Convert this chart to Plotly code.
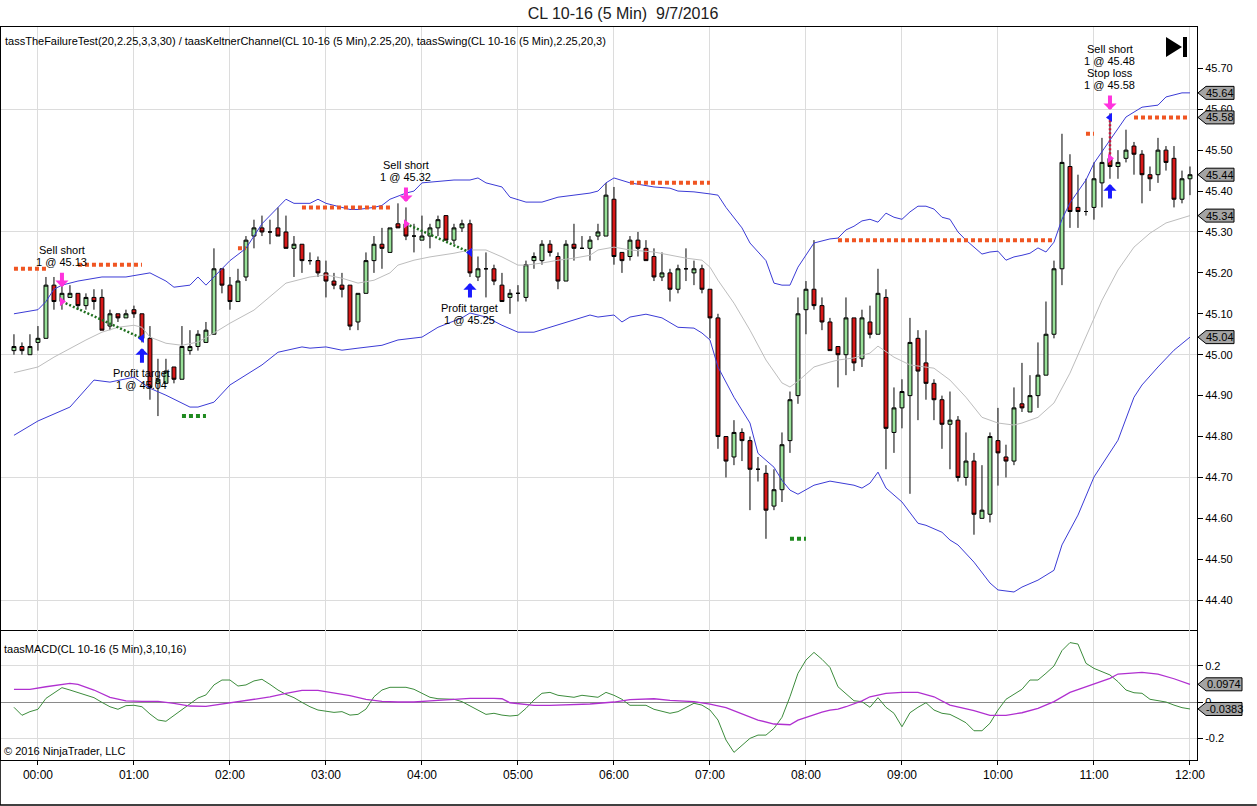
import pandas as pd
import plotly.graph_objects as go
from plotly.subplots import make_subplots

# CL 10-16, 5 minute bars, 23:45 (9/6) through 12:00 (9/7)
bar_open = [45.01, 45.02, 45.00, 45.03, 45.04, 45.17, 45.13, 45.14, 45.15, 45.12,
            45.14, 45.14, 45.07, 45.10, 45.09, 45.11, 45.10, 45.04, 44.93, 44.93,
            44.97, 44.94, 45.01, 45.02, 45.03, 45.05, 45.21, 45.17, 45.13, 45.19,
            45.29, 45.31, 45.30, 45.31, 45.30, 45.26, 45.27, 45.23, 45.23, 45.20,
            45.18, 45.17, 45.17, 45.08, 45.15, 45.23, 45.27, 45.25, 45.32, 45.32,
            45.29, 45.28, 45.29, 45.31, 45.34, 45.28, 45.31, 45.32, 45.19, 45.21,
            45.21, 45.17, 45.14, 45.15, 45.14, 45.23, 45.23, 45.27, 45.24, 45.18,
            45.27, 45.26, 45.26, 45.29, 45.29, 45.38, 45.25, 45.24, 45.28, 45.26,
            45.24, 45.19, 45.20, 45.16, 45.21, 45.20, 45.21, 45.16, 45.09, 44.80,
            44.75, 44.81, 44.79, 44.72, 44.71, 44.63, 44.67, 44.79, 44.90, 45.11,
            45.16, 45.12, 45.08, 45.02, 45.00, 45.09, 44.99, 45.08, 45.05, 45.14,
            44.81, 44.87, 44.90, 45.04, 44.98, 44.93, 44.89, 44.83, 44.84, 44.70,
            44.74, 44.60, 44.61, 44.79, 44.75, 44.74, 44.88, 44.86, 44.90, 44.95,
            45.05, 45.21, 45.46, 45.36, 45.35, 45.36, 45.42, 45.48, 45.46, 45.48,
            45.51, 45.49, 45.44, 45.44, 45.50, 45.48, 45.38, 45.43]
bar_high = [45.05, 45.03, 45.05, 45.07, 45.19, 45.19, 45.17, 45.17, 45.15, 45.15,
            45.16, 45.16, 45.11, 45.10, 45.11, 45.12, 45.10, 45.07, 44.99, 44.99,
            44.97, 45.07, 45.06, 45.06, 45.08, 45.26, 45.21, 45.19, 45.21, 45.29,
            45.33, 45.34, 45.33, 45.36, 45.34, 45.29, 45.27, 45.25, 45.24, 45.23,
            45.20, 45.20, 45.17, 45.15, 45.25, 45.29, 45.31, 45.31, 45.37, 45.36,
            45.32, 45.34, 45.32, 45.34, 45.34, 45.32, 45.33, 45.33, 45.24, 45.25,
            45.22, 45.20, 45.16, 45.17, 45.23, 45.25, 45.28, 45.28, 45.25, 45.28,
            45.32, 45.29, 45.29, 45.32, 45.42, 45.41, 45.25, 45.29, 45.30, 45.28,
            45.26, 45.25, 45.21, 45.22, 45.26, 45.23, 45.22, 45.16, 45.10, 44.80,
            44.84, 44.82, 44.80, 44.75, 44.73, 44.72, 44.81, 44.91, 45.14, 45.18,
            45.28, 45.14, 45.09, 45.02, 45.14, 45.09, 45.11, 45.12, 45.21, 45.16,
            44.92, 44.94, 45.09, 45.06, 45.06, 44.94, 44.90, 44.91, 44.85, 44.81,
            44.76, 44.73, 44.81, 44.87, 44.78, 44.92, 44.98, 44.95, 45.03, 45.13,
            45.23, 45.54, 45.49, 45.44, 45.43, 45.47, 45.53, 45.59, 45.50, 45.55,
            45.52, 45.50, 45.46, 45.53, 45.51, 45.51, 45.45, 45.46]
bar_low = [45.00, 45.00, 45.00, 45.01, 45.04, 45.11, 45.11, 45.14, 45.11, 45.11,
           45.11, 45.06, 45.06, 45.08, 45.09, 45.09, 45.03, 44.89, 44.85, 44.93,
           44.93, 44.94, 45.00, 45.01, 45.03, 45.05, 45.15, 45.11, 45.13, 45.18,
           45.26, 45.29, 45.27, 45.29, 45.26, 45.19, 45.20, 45.22, 45.19, 45.14,
           45.16, 45.14, 45.06, 45.06, 45.15, 45.20, 45.21, 45.25, 45.31, 45.28,
           45.25, 45.28, 45.26, 45.29, 45.28, 45.27, 45.30, 45.19, 45.18, 45.14,
           45.17, 45.13, 45.10, 45.13, 45.13, 45.21, 45.22, 45.24, 45.16, 45.18,
           45.23, 45.26, 45.23, 45.28, 45.29, 45.22, 45.20, 45.23, 45.24, 45.23,
           45.18, 45.18, 45.13, 45.15, 45.18, 45.17, 45.15, 45.04, 44.77, 44.70,
           44.73, 44.74, 44.62, 44.69, 44.55, 44.62, 44.64, 44.76, 44.88, 45.05,
           45.11, 45.06, 45.01, 44.92, 44.95, 44.96, 44.97, 45.04, 45.05, 44.72,
           44.76, 44.82, 44.66, 44.84, 44.89, 44.84, 44.77, 44.72, 44.69, 44.68,
           44.56, 44.60, 44.59, 44.68, 44.70, 44.73, 44.86, 44.86, 44.87, 44.95,
           45.04, 45.17, 45.31, 45.31, 45.34, 45.33, 45.36, 45.43, 45.43, 45.47,
           45.44, 45.37, 45.40, 45.42, 45.45, 45.36, 45.37, 45.39]
bar_close = [45.02, 45.01, 45.02, 45.04, 45.17, 45.13, 45.15, 45.15, 45.12, 45.14,
             45.13, 45.06, 45.10, 45.09, 45.10, 45.10, 45.04, 44.92, 44.94, 44.96,
             44.94, 45.02, 45.02, 45.05, 45.06, 45.21, 45.17, 45.13, 45.18, 45.28,
             45.31, 45.30, 45.30, 45.29, 45.26, 45.27, 45.23, 45.23, 45.20, 45.18,
             45.17, 45.16, 45.07, 45.15, 45.23, 45.27, 45.26, 45.31, 45.31, 45.29,
             45.29, 45.29, 45.31, 45.33, 45.28, 45.31, 45.32, 45.20, 45.21, 45.21,
             45.18, 45.13, 45.15, 45.15, 45.22, 45.24, 45.27, 45.25, 45.18, 45.27,
             45.26, 45.26, 45.28, 45.30, 45.39, 45.24, 45.23, 45.28, 45.26, 45.23,
             45.19, 45.20, 45.16, 45.21, 45.21, 45.21, 45.16, 45.09, 44.80, 44.74,
             44.81, 44.79, 44.72, 44.72, 44.62, 44.67, 44.78, 44.89, 45.10, 45.16,
             45.12, 45.08, 45.01, 45.00, 45.09, 44.98, 45.09, 45.05, 45.15, 44.82,
             44.87, 44.91, 45.03, 44.96, 44.93, 44.89, 44.83, 44.84, 44.70, 44.74,
             44.61, 44.62, 44.80, 44.76, 44.74, 44.87, 44.87, 44.90, 44.95, 45.05,
             45.21, 45.47, 45.35, 45.35, 45.35, 45.43, 45.47, 45.46, 45.47, 45.50,
             45.49, 45.44, 45.43, 45.50, 45.47, 45.38, 45.43, 45.44]

# Keltner channel (2.25, 20), read at sample bars
upper_time = ["23:45", "00:00", "00:05", "00:10", "00:15", "00:25", "00:40", "00:55", "01:10", "01:20",
              "01:25", "01:35", "01:40", "01:45", "01:55", "02:00", "02:10", "02:15", "02:20", "02:30",
              "02:35", "02:40", "02:50", "02:55", "03:00", "03:10", "03:15", "03:20", "03:30", "03:35",
              "03:40", "03:50", "03:55", "04:00", "04:20", "04:30", "04:35", "04:40", "04:50", "04:55",
              "05:05", "05:15", "05:25", "05:35", "05:45", "05:50", "05:55", "06:00", "06:10", "06:25",
              "06:35", "06:40", "06:50", "07:00", "07:05", "07:10", "07:20", "07:25", "07:35", "07:40",
              "07:45", "07:50", "07:55", "08:05", "08:15", "08:20", "08:25", "08:30", "08:35", "08:40",
              "08:45", "08:50", "08:55", "09:00", "09:05", "09:10", "09:15", "09:20", "09:25", "09:30",
              "09:35", "09:40", "09:45", "09:50", "09:55", "10:00", "10:05", "10:10", "10:15", "10:20",
              "10:25", "10:30", "10:35", "10:40", "10:45", "10:55", "11:00", "11:10", "11:20", "11:30",
              "11:40", "11:45", "11:55", "12:00"]
upper_val = [45.100, 45.110, 45.130, 45.160, 45.170, 45.180, 45.190, 45.190, 45.200, 45.180,
             45.165, 45.170, 45.190, 45.170, 45.210, 45.230, 45.260, 45.290, 45.320, 45.360,
             45.380, 45.370, 45.370, 45.380, 45.370, 45.360, 45.355, 45.355, 45.360, 45.365,
             45.380, 45.395, 45.400, 45.420, 45.427, 45.427, 45.432, 45.420, 45.410, 45.385,
             45.373, 45.373, 45.385, 45.390, 45.395, 45.400, 45.420, 45.432, 45.420, 45.410,
             45.407, 45.400, 45.398, 45.393, 45.390, 45.360, 45.310, 45.273, 45.230, 45.175,
             45.170, 45.170, 45.214, 45.273, 45.283, 45.285, 45.305, 45.314, 45.327, 45.331,
             45.324, 45.346, 45.336, 45.331, 45.349, 45.363, 45.363, 45.356, 45.336, 45.331,
             45.300, 45.280, 45.263, 45.246, 45.251, 45.253, 45.231, 45.239, 45.243, 45.248,
             45.261, 45.251, 45.275, 45.331, 45.371, 45.427, 45.468, 45.525, 45.581, 45.605,
             45.610, 45.630, 45.640, 45.640]
mid_time = ["23:45", "00:00", "00:10", "00:20", "00:30", "00:40", "00:50", "01:00", "01:05", "01:10",
            "01:20", "01:30", "01:40", "01:50", "02:00", "02:15", "02:25", "02:35", "02:50", "03:00",
            "03:10", "03:20", "03:30", "03:40", "03:45", "03:55", "04:05", "04:20", "04:30", "04:40",
            "04:50", "05:00", "05:05", "05:15", "05:25", "05:35", "05:45", "05:50", "06:00", "06:10",
            "06:25", "06:35", "06:45", "06:55", "07:00", "07:05", "07:15", "07:25", "07:35", "07:45",
            "07:50", "07:55", "08:05", "08:15", "08:20", "08:30", "08:40", "08:45", "08:55", "09:05",
            "09:20", "09:30", "09:40", "09:50", "10:00", "10:10", "10:15", "10:25", "10:35", "10:45",
            "10:55", "11:05", "11:15", "11:25", "11:35", "11:45", "11:55", "12:00"]
mid_val = [44.956, 44.970, 44.994, 45.016, 45.036, 45.055, 45.067, 45.072, 45.067, 45.043,
           45.028, 45.023, 45.031, 45.053, 45.077, 45.109, 45.141, 45.175, 45.190, 45.195,
           45.187, 45.175, 45.182, 45.200, 45.219, 45.231, 45.239, 45.248, 45.256, 45.256,
           45.239, 45.219, 45.219, 45.224, 45.231, 45.236, 45.243, 45.256, 45.263, 45.256,
           45.251, 45.243, 45.236, 45.231, 45.214, 45.182, 45.126, 45.060, 44.987, 44.931,
           44.921, 44.935, 44.970, 44.982, 44.987, 44.992, 45.004, 45.021, 44.994, 44.975,
           44.967, 44.938, 44.896, 44.847, 44.833, 44.828, 44.833, 44.847, 44.882, 44.955,
           45.043, 45.133, 45.207, 45.263, 45.297, 45.322, 45.334, 45.340]
lower_time = ["23:45", "00:00", "00:20", "00:35", "00:45", "01:00", "01:10", "01:20", "01:35", "01:40",
              "01:50", "02:00", "02:20", "02:30", "02:45", "02:50", "03:00", "03:10", "03:20", "03:35",
              "03:45", "04:00", "04:10", "04:25", "04:30", "04:40", "04:50", "05:00", "05:10", "05:20",
              "05:30", "05:45", "05:50", "06:00", "06:05", "06:10", "06:20", "06:30", "06:40", "06:50",
              "06:55", "07:00", "07:05", "07:15", "07:25", "07:30", "07:40", "07:45", "07:50", "07:55",
              "08:05", "08:15", "08:30", "08:35", "08:40", "08:45", "08:50", "09:00", "09:10", "09:15",
              "09:25", "09:30", "09:35", "09:45", "09:55", "10:00", "10:10", "10:15", "10:25", "10:35",
              "10:40", "10:50", "11:00", "11:15", "11:25", "11:30", "11:40", "11:50", "12:00"]
lower_val = [44.803, 44.838, 44.872, 44.938, 44.933, 44.945, 44.918, 44.901, 44.872, 44.872,
             44.884, 44.926, 44.975, 45.006, 45.019, 45.016, 45.019, 45.011, 45.016, 45.023,
             45.036, 45.043, 45.067, 45.090, 45.102, 45.092, 45.072, 45.055, 45.055, 45.067,
             45.080, 45.097, 45.092, 45.097, 45.080, 45.092, 45.099, 45.090, 45.067, 45.065,
             45.053, 45.036, 44.970, 44.896, 44.833, 44.759, 44.725, 44.693, 44.669, 44.659,
             44.681, 44.691, 44.681, 44.674, 44.686, 44.713, 44.674, 44.640, 44.588, 44.583,
             44.566, 44.547, 44.535, 44.493, 44.442, 44.425, 44.420, 44.432, 44.449, 44.473,
             44.535, 44.608, 44.701, 44.791, 44.896, 44.926, 44.970, 45.011, 45.043]

# swing highs / lows (taasSwing)
swing_hi_start = ["23:45", "00:25", "02:05", "02:45", "06:10", "08:20", "10:55", "11:25"]
swing_hi_end = ["00:05", "01:05", "02:10", "03:40", "07:00", "10:35", "11:00", "12:00"]
swing_hi_price = [45.21, 45.22, 45.26, 45.36, 45.42, 45.28, 45.54, 45.58]
swing_lo_start = ["01:30", "07:50"]
swing_lo_end = ["01:45", "08:00"]
swing_lo_price = [44.85, 44.55]

# trades from taasTheFailureTest
entry_time = ["00:15", "03:50", "11:10"]
entry_price = [45.13, 45.32, 45.48]
exit_time = ["01:05", "04:30", "11:10"]
exit_price = [45.04, 45.25, 45.58]
exit_kind = ["Profit target", "Profit target", "Stop loss"]
sell_arrow_price = [45.165, 45.373, 45.598]
cover_arrow_price = [45.016, 45.175, 45.417]

# taasMACD(3,10,16), one value per bar
macd = [-0.029, -0.073, -0.053, -0.040, 0.020, 0.051, 0.079, 0.066, 0.053, 0.040,
        0.024, -0.002, -0.026, -0.040, -0.020, -0.018, -0.026, -0.066, -0.099, -0.106,
        -0.073, -0.044, -0.011, 0.022, 0.039, 0.094, 0.121, 0.121, 0.088, 0.094,
        0.116, 0.125, 0.097, 0.066, 0.042, 0.024, -0.002, -0.026, -0.044, -0.050,
        -0.057, -0.053, -0.072, -0.068, -0.039, 0.029, 0.066, 0.081, 0.081, 0.081,
        0.070, 0.048, 0.026, 0.018, 0.016, 0.015, 0.002, -0.022, -0.044, -0.068,
        -0.062, -0.072, -0.077, -0.073, -0.035, 0.011, 0.048, 0.053, 0.037, 0.033,
        0.026, 0.037, 0.033, 0.026, 0.053, 0.037, 0.015, -0.018, -0.018, -0.018,
        -0.040, -0.051, -0.062, -0.053, -0.029, -0.007, -0.017, -0.044, -0.099, -0.209,
        -0.277, -0.237, -0.200, -0.182, -0.182, -0.145, -0.084, 0.029, 0.158, 0.231,
        0.273, 0.235, 0.190, 0.084, 0.048, 0.007, 0.002, -0.029, 0.024, -0.029,
        -0.062, -0.136, -0.059, -0.029, -0.004, -0.044, -0.062, -0.068, -0.090, -0.114,
        -0.158, -0.158, -0.117, -0.044, 0.015, 0.042, 0.070, 0.121, 0.121, 0.158,
        0.198, 0.283, 0.327, 0.319, 0.213, 0.185, 0.167, 0.149, 0.112, 0.066,
        0.051, 0.048, 0.015, 0.007, 0.000, -0.017, -0.031, -0.0383]
signal_time = ["23:45", "23:55", "00:05", "00:15", "00:20", "00:25", "00:35", "00:45", "00:55", "01:05",
               "01:15", "01:25", "01:35", "01:45", "01:55", "02:05", "02:15", "02:25", "02:35", "02:45",
               "02:55", "03:05", "03:15", "03:25", "03:35", "03:45", "03:55", "04:05", "04:20", "04:30",
               "04:45", "04:50", "04:55", "05:10", "05:20", "05:35", "05:45", "06:00", "06:10", "06:25",
               "06:35", "06:50", "07:00", "07:10", "07:20", "07:30", "07:40", "07:50", "07:55", "08:05",
               "08:10", "08:15", "08:20", "08:25", "08:35", "08:40", "08:50", "09:00", "09:10", "09:20",
               "09:30", "09:45", "09:55", "10:05", "10:15", "10:25", "10:35", "10:45", "11:00", "11:10",
               "11:15", "11:30", "11:40", "11:50", "12:00"]
signal_val = [0.070, 0.070, 0.084, 0.099, 0.103, 0.097, 0.066, 0.026, 0.006, 0.004,
              0.004, -0.007, -0.022, -0.024, -0.011, 0.000, 0.011, 0.028, 0.048, 0.064,
              0.064, 0.051, 0.035, 0.015, 0.004, 0.000, 0.000, 0.006, 0.013, 0.020,
              0.020, 0.018, -0.004, -0.018, -0.018, -0.015, -0.011, 0.000, 0.013, 0.018,
              0.009, 0.002, -0.011, -0.031, -0.066, -0.099, -0.121, -0.125, -0.100, -0.070,
              -0.055, -0.045, -0.039, -0.026, 0.006, 0.029, 0.048, 0.053, 0.053, 0.029,
              -0.017, -0.048, -0.073, -0.073, -0.059, -0.035, 0.002, 0.053, 0.099, 0.130,
              0.154, 0.163, 0.154, 0.128, 0.0974]

price_ticks = [44.4, 44.5, 44.6, 44.7, 44.8, 44.9, 45.0, 45.1, 45.2, 45.3, 45.4, 45.5, 45.6, 45.7]
price_grid = [44.4, 44.7, 45.0, 45.3, 45.6]
macd_ticks = [-0.2, 0, 0.2]

assert len(bar_open) == len(bar_high) == len(bar_low) == len(bar_close) == len(macd)
assert len(upper_time) == len(upper_val) and len(mid_time) == len(mid_val)
assert len(lower_time) == len(lower_val) and len(signal_time) == len(signal_val)


def clock(hhmm):
    # the session starts the evening before
    day = "2016-09-06" if hhmm >= "23:00" else "2016-09-07"
    return pd.Timestamp(day + " " + hhmm)


def clocks(lst):
    return [clock(t) for t in lst]


bar_time = pd.date_range("2016-09-06 23:45", periods=len(bar_open), freq="5min")

FONT = "Liberation Sans, Arial, sans-serif"
PINK = "#ff33dd"
BLUE = "#1a1aff"
ORANGE = "#f05522"
GRID = "#dcdcdc"
LINE_H = 12  # NinjaTrader packs label lines tighter than plotly does

fig = make_subplots(rows=2, cols=1, shared_xaxes=True, vertical_spacing=0,
                    row_heights=[0.8227, 0.1773])

# channel
fig.add_trace(go.Scatter(x=clocks(upper_time), y=upper_val, mode="lines",
                         line=dict(color="#3b3bd6", width=1)), row=1, col=1)
fig.add_trace(go.Scatter(x=clocks(lower_time), y=lower_val, mode="lines",
                         line=dict(color="#3b3bd6", width=1)), row=1, col=1)
fig.add_trace(go.Scatter(x=clocks(mid_time), y=mid_val, mode="lines",
                         line=dict(color="#bdbdbd", width=1)), row=1, col=1)

# candles
fig.add_trace(go.Candlestick(
    x=bar_time, open=bar_open, high=bar_high, low=bar_low, close=bar_close,
    increasing=dict(fillcolor="#98e098", line=dict(color="black", width=1)),
    decreasing=dict(fillcolor="#d81818", line=dict(color="black", width=1)),
    whiskerwidth=0), row=1, col=1)

# swing lines
for t0, t1, p in zip(swing_hi_start, swing_hi_end, swing_hi_price):
    fig.add_trace(go.Scatter(x=[clock(t0), clock(t1)], y=[p, p], mode="lines",
                             line=dict(color=ORANGE, width=4, dash="4px,3px")), row=1, col=1)
for t0, t1, p in zip(swing_lo_start, swing_lo_end, swing_lo_price):
    fig.add_trace(go.Scatter(x=[clock(t0), clock(t1)], y=[p, p], mode="lines",
                             line=dict(color="#1f8a1f", width=4, dash="4px,3px")), row=1, col=1)

# trade lines entry -> exit
for t0, p0, t1, p1, kind in zip(entry_time, entry_price, exit_time, exit_price, exit_kind):
    color = "#d0103a" if kind == "Stop loss" else "#1f6f1f"
    fig.add_trace(go.Scatter(x=[clock(t0), clock(t1)], y=[p0, p1], mode="lines",
                             line=dict(color=color, width=2.5, dash="2px,2px")), row=1, col=1)

fig.add_trace(go.Scatter(x=clocks(entry_time), y=entry_price, mode="markers",
                         marker=dict(symbol="triangle-right", size=8, color=PINK)), row=1, col=1)
fig.add_trace(go.Scatter(x=clocks(exit_time), y=exit_price, mode="markers",
                         marker=dict(symbol="triangle-left", size=8, color=BLUE)), row=1, col=1)

# MACD
fig.add_trace(go.Scatter(x=bar_time, y=macd, mode="lines",
                         line=dict(color="#3c8c3c", width=1)), row=2, col=1)
fig.add_trace(go.Scatter(x=clocks(signal_time), y=signal_val, mode="lines",
                         line=dict(color="#b030d0", width=1.3)), row=2, col=1)

ann = []


def stack_label(t, price, lines, above):
    # one annotation per text line so the line pitch can be set
    n = len(lines)
    for j, s in enumerate(lines):
        if above:
            shift = 17 + (n - 1 - j) * LINE_H
            anchor = "bottom"
        else:
            shift = -17 - j * LINE_H
            anchor = "top"
        ann.append(dict(x=clock(t), y=price, xref="x", yref="y", text=s, showarrow=False,
                        yanchor=anchor, yshift=shift,
                        font=dict(size=11, color="black", family=FONT)))


# trade arrows and labels
for i in range(len(entry_time)):
    ann.append(dict(x=clock(entry_time[i]), y=sell_arrow_price[i], xref="x", yref="y",
                    text="", showarrow=True, ax=0, ay=-16, arrowhead=1, arrowsize=0.55,
                    arrowwidth=4, arrowcolor=PINK, font=dict(size=1)))
    ann.append(dict(x=clock(exit_time[i]), y=cover_arrow_price[i], xref="x", yref="y",
                    text="", showarrow=True, ax=0, ay=16, arrowhead=1, arrowsize=0.55,
                    arrowwidth=4, arrowcolor=BLUE, font=dict(size=1)))
    sell_lines = ["Sell short", "1 @ %.2f" % entry_price[i]]
    exit_lines = [exit_kind[i], "1 @ %.2f" % exit_price[i]]
    if entry_time[i] == exit_time[i]:
        stack_label(entry_time[i], sell_arrow_price[i], sell_lines + exit_lines, True)
    else:
        stack_label(entry_time[i], sell_arrow_price[i], sell_lines, True)
        stack_label(exit_time[i], cover_arrow_price[i], exit_lines, False)

# last value tags on the right axis
price_tags = [upper_val[-1], swing_hi_price[-1], bar_close[-1], mid_val[-1], lower_val[-1]]
macd_tags = [signal_val[-1], macd[-1]]
shapes = []
for v in price_tags:
    shapes.append(dict(type="path", xref="paper", yref="y", xsizemode="pixel", ysizemode="pixel",
                       xanchor=1, yanchor=v, path="M 1,0 L 9,6.5 L 37,6.5 L 37,-6.5 L 9,-6.5 Z",
                       fillcolor="#a4a4a4", line=dict(color="black", width=1), layer="above"))
    ann.append(dict(x=1, y=v, xref="paper", yref="y", text="%.2f" % v, showarrow=False,
                    xanchor="center", xshift=23, font=dict(size=11, color="black", family=FONT)))
for v in macd_tags:
    shapes.append(dict(type="path", xref="paper", yref="y2", xsizemode="pixel", ysizemode="pixel",
                       xanchor=1, yanchor=v, path="M 1,0 L 9,6.5 L 45,6.5 L 45,-6.5 L 9,-6.5 Z",
                       fillcolor="#a4a4a4", line=dict(color="black", width=1), layer="above"))
    ann.append(dict(x=1, y=v, xref="paper", yref="y2", text="%.4f" % v, showarrow=False,
                    xanchor="center", xshift=27, font=dict(size=11, color="black", family=FONT)))

# go-to-end button
shapes.append(dict(type="path", xref="paper", yref="paper", xsizemode="pixel", ysizemode="pixel",
                   xanchor=1, yanchor=1,
                   path="M -31,-10 L -15,-20 L -31,-30 Z M -14,-10 L -10,-10 L -10,-30 L -14,-30 Z",
                   fillcolor="black", line=dict(width=0), layer="above"))
# outer frame (left and bottom)
shapes.append(dict(type="line", xref="paper", yref="paper", x0=-0.0008, x1=-0.0008, y0=1, y1=-0.0614,
                   line=dict(color="black", width=1.5)))
shapes.append(dict(type="line", xref="paper", yref="paper", x0=-0.0008, x1=1.05, y0=-0.0614, y1=-0.0614,
                   line=dict(color="black", width=1.5)))

ann.append(dict(x=0, y=1, xref="paper", yref="paper", xanchor="left", yanchor="top", xshift=2, yshift=-6,
                text="tassTheFailureTest(20,2.25,3,3,30) / taasKeltnerChannel(CL 10-16 (5 Min),2.25,20), "
                     "taasSwing(CL 10-16 (5 Min),2.25,20,3)",
                showarrow=False, font=dict(size=11, color="black", family=FONT)))
ann.append(dict(x=0, y=1, xref="paper", yref="y2 domain", xanchor="left", yanchor="top", xshift=1, yshift=-11,
                text="taasMACD(CL 10-16 (5 Min),3,10,16)", showarrow=False,
                font=dict(size=11, color="black", family=FONT)))
ann.append(dict(x=0, y=0, xref="paper", yref="y2 domain", xanchor="left", yanchor="bottom", xshift=1, yshift=1,
                text="© 2016 NinjaTrader, LLC", showarrow=False,
                font=dict(size=11, color="black", family=FONT)))

fig.update_layout(
    width=1257, height=806, margin=dict(l=1, r=60, t=27, b=46),
    paper_bgcolor="white", plot_bgcolor="white", showlegend=False, hovermode=False,
    font=dict(family=FONT, size=11, color="black"),
    title=dict(text="CL 10-16 (5 Min)  9/7/2016", x=0.4956, xref="container", xanchor="center",
               y=1 - 13 / 806, yanchor="middle", font=dict(size=16, color="#202020", family=FONT)),
    annotations=ann, shapes=shapes,
)

x_range = [pd.Timestamp("2016-09-06 23:36:54"), pd.Timestamp("2016-09-07 12:04:23")]
fig.update_xaxes(type="date", range=x_range, dtick=3600000, tick0="2016-09-07 00:00",
                 tickformat="%H:%M", showgrid=True, gridcolor=GRID, gridwidth=1,
                 showline=True, linecolor="black", linewidth=1,
                 rangeslider=dict(visible=False), zeroline=False)
fig.update_xaxes(mirror=True, showticklabels=False, ticks="", row=1, col=1)
fig.update_xaxes(mirror=False, ticks="outside", ticklen=4, tickcolor="black", tickfont=dict(size=12),
                 row=2, col=1)

fig.update_yaxes(side="right", showline=True, linecolor="black", linewidth=1, mirror=True,
                 ticks="outside", ticklen=5, tickcolor="black", tickfont=dict(size=11), zeroline=False)
fig.update_yaxes(range=[44.327, 45.801], tickmode="array", tickvals=price_ticks,
                 ticktext=["%.2f" % v for v in price_ticks], showgrid=False,
                 minor=dict(tickmode="array", tickvals=price_grid, showgrid=True,
                            gridcolor=GRID, ticks=""),
                 row=1, col=1)
fig.update_yaxes(range=[-0.319, 0.396], tickmode="array", tickvals=macd_ticks,
                 ticktext=["%g" % v for v in macd_ticks],
                 showgrid=True, gridcolor=GRID, zeroline=True, zerolinecolor="#8a8a8a", zerolinewidth=1,
                 row=2, col=1)

fig.write_html("out.html", config={"displayModeBar": False, "staticPlot": True},
               post_script="document.body.style.margin='0px';")
